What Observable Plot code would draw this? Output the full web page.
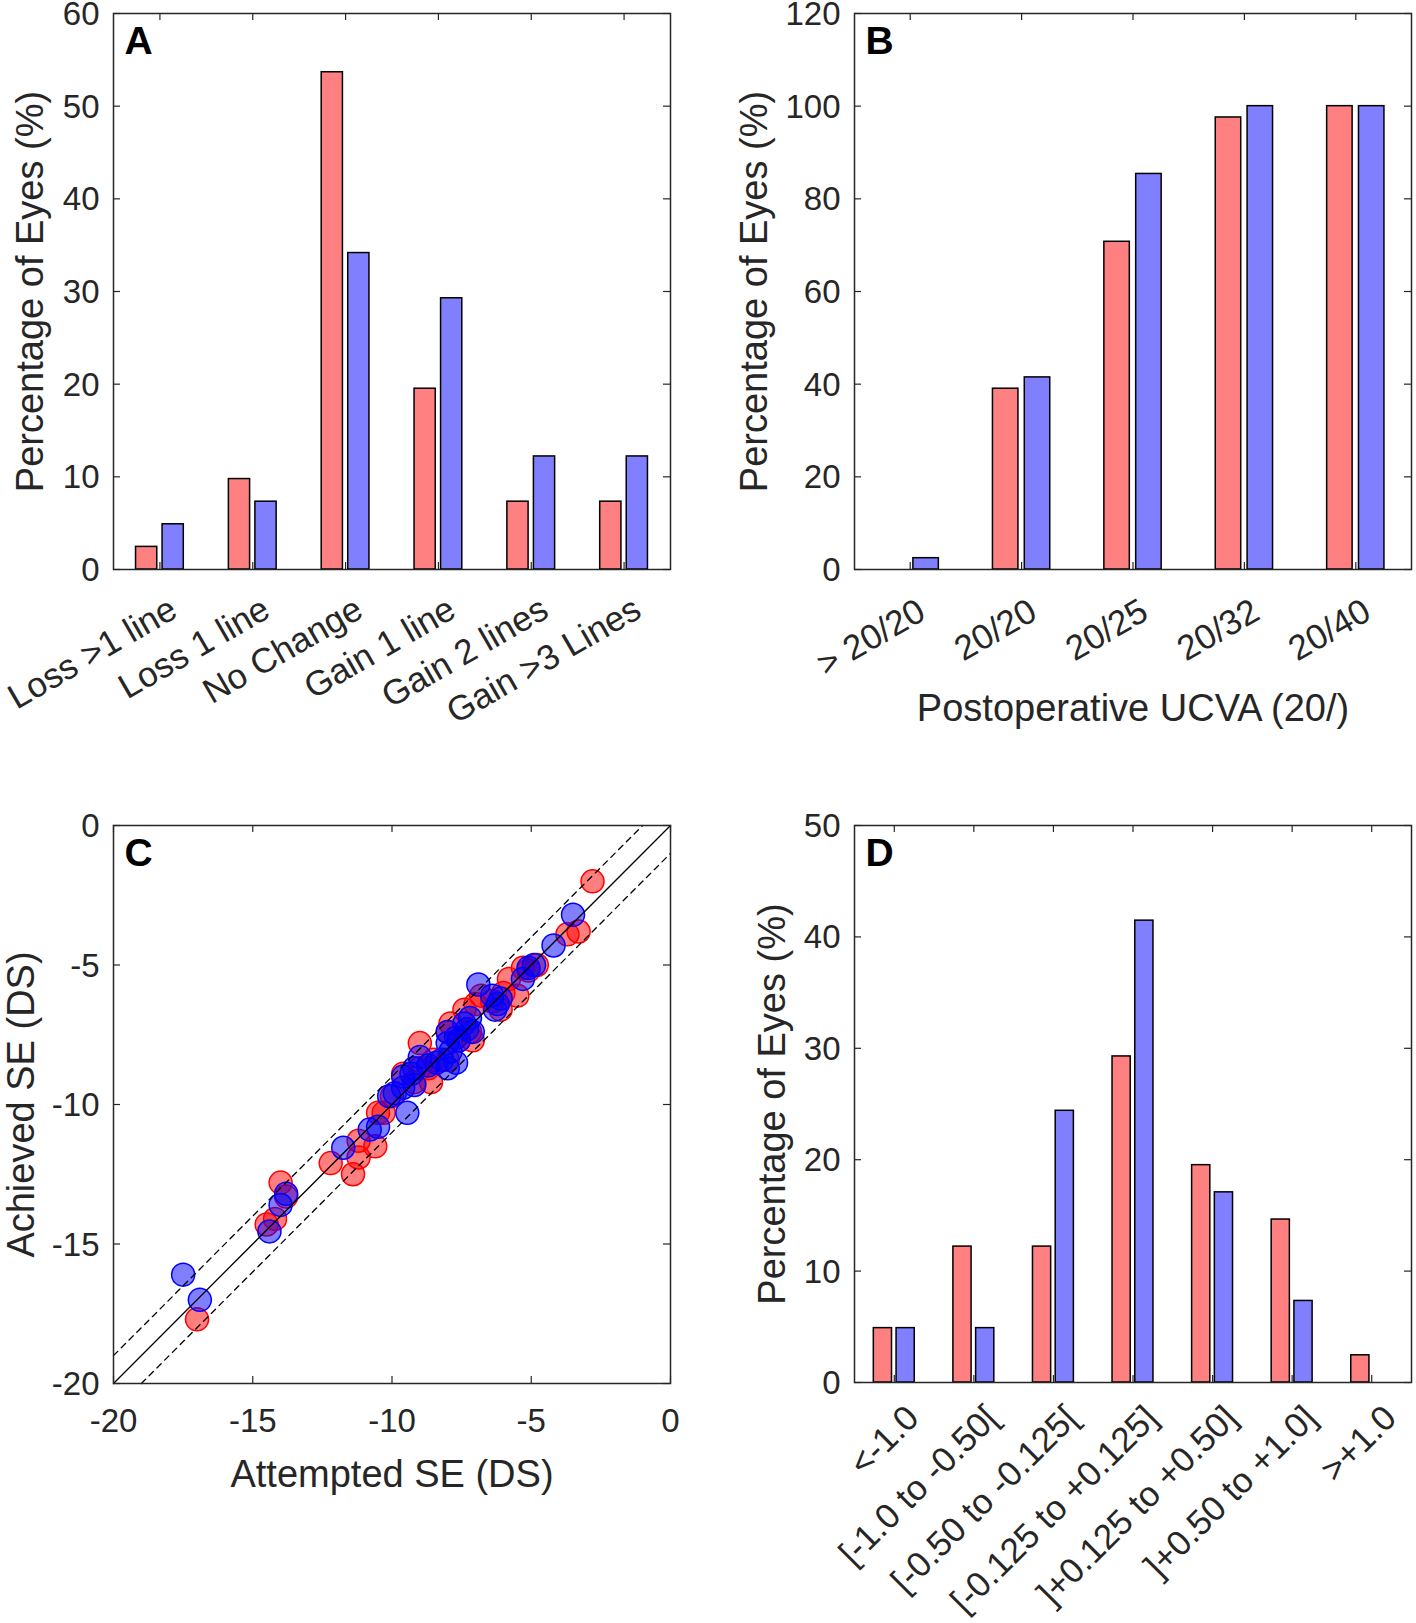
<!DOCTYPE html>
<html><head><meta charset="utf-8">
<script src="https://cdn.jsdelivr.net/npm/d3@7"></script>
<script src="https://cdn.jsdelivr.net/npm/@observablehq/plot@0.6"></script>
<style>
html,body{margin:0;padding:0;background:#fff;}
#root{position:relative;width:1416px;height:1623px;overflow:hidden;background:#fff;}
#root svg{position:absolute;overflow:visible;}
</style></head><body><div id="root"></div>
<script>
// ---- Panel A: change in lines ----
const catsA = ["Loss >1 line", "Loss 1 line", "No Change", "Gain 1 line", "Gain 2 lines", "Gain >3 Lines"];
const redA = [2.44, 9.76, 53.66, 19.51, 7.32, 7.32];
const blueA = [4.88, 7.32, 34.15, 29.27, 12.20, 12.20];
const yTicksA = [0, 10, 20, 30, 40, 50, 60];

// ---- Panel B: cumulative UCVA ----
const catsB = ["> 20/20", "20/20", "20/25", "20/32", "20/40"];
const redB = [0, 39.02, 70.73, 97.56, 100];
const blueB = [2.44, 41.46, 85.37, 100, 100];
const yTicksB = [0, 20, 40, 60, 80, 100, 120];
const xTitleB = "Postoperative UCVA (20/)";

// ---- Panel C: attempted vs achieved ----
const redAttempted = [-2.8, -3.3, -3.7, -4.8, -5.3, -5.8, -5.5, -6.1, -6.8, -7.4, -7.2, -7.1, -8.0, -9.0, -8.6, -9.0, -9.6, -10.0, -10.3, -10.5, -10.6, -11.2, -11.2, -11.4, -12.2, -14.0, -13.8, -14.2, -14.5, -17.0, -8.0, -8.7, -7.6, -7.9, -6.4, -6.0, -5.1, -7.0, -8.5, -9.2];
const redAchieved  = [-2.0, -3.8, -3.9, -5.0, -5.1, -5.5, -6.1, -6.6, -6.1, -6.6, -7.4, -7.7, -7.4, -7.8, -9.2, -8.7, -8.9, -9.7, -10.3, -10.3, -11.5, -11.3, -11.9, -12.5, -12.1, -12.8, -13.3, -14.1, -14.3, -17.7, -8.4, -8.7, -7.7, -7.1, -6.3, -6.0, -5.2, -6.4, -8.4, -9.2];
const blueAttempted = [-3.5, -4.2, -4.9, -5.1, -5.3, -6.9, -6.4, -6.1, -6.3, -7.2, -7.3, -7.1, -7.6, -8.0, -7.9, -8.2, -8.0, -7.7, -8.7, -9.0, -9.3, -9.6, -9.2, -9.6, -9.9, -10.1, -9.45, -10.5, -10.8, -11.75, -13.8, -14.0, -14.4, -16.9, -17.5, -7.7, -8.0, -8.4, -7.4, -9.2, -6.2];
const blueAchieved  = [-3.2, -4.3, -5.0, -5.1, -5.5, -5.7, -6.1, -6.2, -6.6, -6.9, -7.3, -7.4, -7.7, -7.4, -8.1, -8.4, -8.7, -8.5, -8.6, -8.3, -8.9, -9.0, -9.3, -9.4, -9.6, -9.7, -10.3, -10.8, -10.9, -11.55, -13.2, -13.6, -14.55, -17.0, -16.1, -7.6, -7.8, -8.5, -7.1, -8.7, -6.4];
const ticksC = [-20, -15, -10, -5, 0];
const refSolidX = [-20, 0], refSolidY = [-20, 0];
const refUpperX = [-20, -1], refUpperY = [-19, 0];
const refLowerX = [-19, 0], refLowerY = [-20, -1];
const xTitleC = "Attempted SE (DS)";
const yTitleC = "Achieved SE (DS)";

// ---- Panel D: deviation from target ----
const catsD = ["<-1.0", "[-1.0 to -0.50[", "[-0.50 to -0.125[", "[-0.125 to +0.125]", "]+0.125 to +0.50]", "]+0.50 to +1.0]", ">+1.0"];
const redD = [4.88, 12.20, 12.20, 29.27, 19.51, 14.63, 2.44];
const blueD = [4.88, 4.88, 24.39, 41.46, 17.07, 7.32, 0];
const yTicksD = [0, 10, 20, 30, 40, 50];

const yTitleBars = "Percentage of Eyes (%)";

// ---- styling ----
const INK = "#262626";
const FONT = "'Liberation Sans', Arial, Helvetica, sans-serif";
const TICK_FS = 33, CAT_FS = 35, LABEL_FS = 38, LETTER_FS = 39, TICK_LEN = 7;
const RED_FILL = "#ff8080", BLUE_FILL = "#8080ff";
const GROUP_OFF = 1 / 7, BAR_W = 0.8 * (2 / 3.5) / 2;

const root = document.getElementById("root");
function place(svg, left, top) {
  svg.style.left = left + "px";
  svg.style.top = top + "px";
  root.appendChild(svg);
}
const baseStyle = {fontFamily: FONT, fontSize: TICK_FS + "px", color: INK, background: "transparent", overflow: "visible"};

function tickMarks(xTicks, yTicks, W, H) {
  return [
    Plot.ruleX(xTicks, {x: d => d, insetTop: H - TICK_LEN, stroke: INK, strokeWidth: 1.2}),
    Plot.ruleX(xTicks, {x: d => d, insetBottom: H - TICK_LEN, stroke: INK, strokeWidth: 1.2}),
    Plot.ruleY(yTicks, {y: d => d, insetRight: W - TICK_LEN, stroke: INK, strokeWidth: 1.2}),
    Plot.ruleY(yTicks, {y: d => d, insetLeft: W - TICK_LEN, stroke: INK, strokeWidth: 1.2})
  ];
}
function yTickLabels(yTicks) {
  return Plot.text(yTicks, {y: d => d, text: d => String(d), frameAnchor: "left", textAnchor: "end", lineAnchor: "middle", dx: -14, dy: 1, fill: INK, fontSize: TICK_FS});
}
function letter(l) {
  return Plot.text([l], {text: d => d, frameAnchor: "top-left", textAnchor: "start", lineAnchor: "bottom", dx: 11, dy: 40, fontWeight: "bold", fontSize: LETTER_FS, fill: "#000"});
}
function yTitle(t, dx) {
  return Plot.text([t], {text: d => d, frameAnchor: "left", rotate: -90, textAnchor: "middle", lineAnchor: "bottom", dx, fill: INK, fontSize: LABEL_FS});
}

function barPanel({cats, red, blue, yTicks, mt, mb, ml, mr, W, H, width, height, rotate, ldx, ldy, letterText, ytdx, extra = []}) {
  const n = cats.length;
  const idx = cats.map((c, i) => i + 1);
  const bar = (vals, off, fill) => Plot.rectY(vals, {
    x1: (d, i) => i + 1 + off - BAR_W / 2,
    x2: (d, i) => i + 1 + off + BAR_W / 2,
    y1: 0, y2: d => d, fill, stroke: "#000", strokeWidth: 1.5
  });
  return Plot.plot({
    width, height, marginLeft: ml, marginRight: mr, marginTop: mt, marginBottom: mb,
    style: baseStyle,
    x: {type: "linear", domain: [0.5, n + 0.5], axis: null},
    y: {domain: [yTicks[0], yTicks[yTicks.length - 1]], axis: null},
    marks: [
      bar(red, -GROUP_OFF, RED_FILL),
      bar(blue, GROUP_OFF, BLUE_FILL),
      ...tickMarks(idx, yTicks, W, H),
      Plot.frame({stroke: INK, strokeWidth: 1.5}),
      yTickLabels(yTicks),
      Plot.text(cats, {x: (d, i) => i + 1, text: d => d, frameAnchor: "bottom", rotate, textAnchor: "end", lineAnchor: "top", dx: ldx, dy: ldy, fill: INK, fontSize: CAT_FS}),
      letter(letterText),
      yTitle(yTitleBars, ytdx),
      ...extra
    ]
  });
}

// Panel A
place(barPanel({cats: catsA, red: redA, blue: blueA, yTicks: yTicksA,
  width: 708, height: 790, ml: 113, mr: 38, mt: 13, mb: 221, W: 557, H: 556,
  rotate: -30, ldx: 7, ldy: 25, letterText: "A", ytdx: -71}), 0, 0);

// Panel B
place(barPanel({cats: catsB, red: redB, blue: blueB, yTicks: yTicksB,
  width: 708, height: 790, ml: 146, mr: 5, mt: 13, mb: 221, W: 557, H: 556,
  rotate: -30, ldx: 5, ldy: 27, letterText: "B", ytdx: -88,
  extra: [Plot.text([xTitleB], {text: d => d, frameAnchor: "bottom", textAnchor: "middle", lineAnchor: "bottom", dy: 151, fill: INK, fontSize: LABEL_FS})]}), 708, 0);

// Panel C
const redPts = redAttempted.map((x, i) => ({x, y: redAchieved[i]}));
const bluePts = blueAttempted.map((x, i) => ({x, y: blueAchieved[i]}));
const toPts = (xs, ys) => xs.map((x, i) => ({x, y: ys[i]}));
place(Plot.plot({
  width: 708, height: 833, marginLeft: 113, marginRight: 38, marginTop: 35, marginBottom: 240,
  style: baseStyle,
  x: {domain: [-20, 0], axis: null},
  y: {domain: [-20, 0], axis: null},
  marks: [
    Plot.dot(redPts, {x: "x", y: "y", r: 11.5, fill: "#ff0000", fillOpacity: 0.5, stroke: "#ff0000", strokeWidth: 1.5}),
    Plot.dot(bluePts, {x: "x", y: "y", r: 11.5, fill: "#0000ff", fillOpacity: 0.5, stroke: "#0000ff", strokeWidth: 1.5}),
    Plot.line(toPts(refSolidX, refSolidY), {x: "x", y: "y", stroke: "#000", strokeWidth: 1.3}),
    Plot.line(toPts(refUpperX, refUpperY), {x: "x", y: "y", stroke: "#000", strokeWidth: 1.3, strokeDasharray: "6,5"}),
    Plot.line(toPts(refLowerX, refLowerY), {x: "x", y: "y", stroke: "#000", strokeWidth: 1.3, strokeDasharray: "6,5"}),
    ...tickMarks(ticksC, ticksC, 557, 558),
    Plot.frame({stroke: INK, strokeWidth: 1.5}),
    yTickLabels(ticksC),
    Plot.text(ticksC, {x: d => d, text: d => String(d), frameAnchor: "bottom", textAnchor: "middle", lineAnchor: "top", dy: 25, fill: INK, fontSize: TICK_FS}),
    Plot.text([xTitleC], {text: d => d, frameAnchor: "bottom", textAnchor: "middle", lineAnchor: "bottom", dy: 103, fill: INK, fontSize: LABEL_FS}),
    yTitle(yTitleC, -80),
    letter("C")
  ]
}), 0, 790);

// Panel D
place(barPanel({cats: catsD, red: redD, blue: blueD, yTicks: yTicksD,
  width: 708, height: 833, ml: 146, mr: 5, mt: 35, mb: 241, W: 557, H: 557,
  rotate: -45, ldx: 9, ldy: 20, letterText: "D", ytdx: -70}), 708, 790);
</script></body></html>
